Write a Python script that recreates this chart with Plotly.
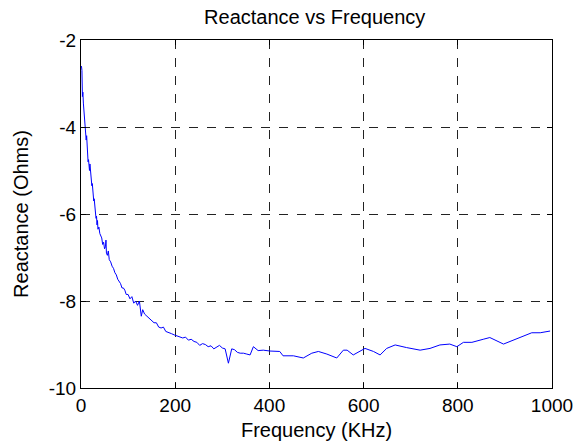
import plotly.graph_objects as go

# Frequency sweep (KHz) and measured reactance (Ohms)
freq_khz = [1, 2, 3, 4, 5, 6, 7, 8, 9, 10, 11, 12, 13, 14, 15, 16, 17, 18, 19, 20,
            21, 22, 23, 24, 25, 26, 27, 28, 29, 30, 31, 32, 33, 34, 35, 36, 38, 40,
            42, 44, 46, 48, 50, 52, 53, 54, 56, 58, 60, 63, 66, 69, 72, 75, 78, 81,
            84, 87, 90, 93, 96, 100, 104, 108, 112, 116, 120, 124, 128, 131, 135,
            140, 145, 150, 155, 160, 165, 170, 175, 180, 186, 192, 198, 204, 210,
            216, 222, 228, 234, 240, 246, 252, 258, 264, 270, 276, 282, 288, 294,
            300, 306, 313, 320, 326, 332, 338, 345, 352, 359, 366, 376, 387, 401,
            422, 429, 451, 472, 490, 504, 522, 543, 557, 565, 578, 603, 621, 635,
            649, 667, 691, 720, 741, 762, 783, 798, 812, 830, 854, 868, 897, 918,
            939, 957, 975, 996]
reactance_ohm = [-2.6, -2.7, -3.3, -3.2, -3.45, -3.6, -3.75, -3.95, -3.9, -4.1,
                 -4.3, -4.2, -4.5, -4.6, -4.8, -4.75, -4.9, -5.0, -4.85, -5.05,
                 -5.2, -5.25, -5.35, -5.3, -5.5, -5.55, -5.7, -5.65, -5.85, -5.9,
                 -6.0, -6.1, -6.05, -6.25, -6.15, -6.35, -6.3, -6.45, -6.5, -6.55,
                 -6.7, -6.65, -6.8, -6.75, -6.6, -6.9, -6.95, -6.85, -7.05, -7.1,
                 -7.2, -7.25, -7.35, -7.4, -7.5, -7.55, -7.6, -7.7, -7.7, -7.75,
                 -7.85, -7.85, -7.95, -7.9, -8.05, -8.0, -8.1, -8.0, -8.35, -8.2,
                 -8.3, -8.35, -8.4, -8.45, -8.5, -8.5, -8.6, -8.62, -8.6, -8.7,
                 -8.72, -8.75, -8.78, -8.8, -8.82, -8.85, -8.83, -8.9, -8.88, -8.93,
                 -8.95, -9.02, -8.98, -9.0, -9.05, -9.03, -9.1, -9.05, -9.02, -9.08,
                 -9.1, -9.43, -9.1, -9.12, -9.18, -9.2, -9.2, -9.22, -9.24, -9.05,
                 -9.14, -9.13, -9.15, -9.16, -9.26, -9.26, -9.31, -9.2, -9.16, -9.22,
                 -9.31, -9.13, -9.13, -9.24, -9.09, -9.16, -9.24, -9.09, -9.01, -9.07,
                 -9.13, -9.09, -9.01, -8.99, -9.05, -8.95, -8.95, -8.88, -8.84, -8.99,
                 -8.9, -8.8, -8.73, -8.73, -8.69]

x_ticks = [0, 200, 400, 600, 800, 1000]
y_ticks = [-10, -8, -6, -4, -2]

font_family = "Liberation Sans, Arial, sans-serif"
tick_size = 19
label_size = 20

fig = go.Figure()
fig.add_trace(go.Scatter(
    x=freq_khz, y=reactance_ohm, mode="lines",
    line=dict(color="#0000ff", width=1),
    showlegend=False,
))

axis_common = dict(
    showline=True, linecolor="black", linewidth=1, mirror="ticks",
    ticks="inside", ticklen=5, tickcolor="black", tickwidth=1,
    showgrid=True, gridcolor="#222222", gridwidth=1, griddash="dash",
    zeroline=False, automargin=False,
    tickfont=dict(family=font_family, size=tick_size, color="black"),
)

fig.update_layout(
    width=585, height=448,
    margin=dict(l=81, r=33, t=40, b=60),
    paper_bgcolor="white", plot_bgcolor="white",
    font=dict(family=font_family, size=tick_size, color="black"),
    title=dict(text="Reactance vs Frequency", x=0.538, xanchor="center",
               y=0.963, yanchor="middle",
               font=dict(family=font_family, size=label_size, color="black")),
    xaxis=dict(
        axis_common, range=[0, 1000], tickvals=x_ticks,
        ticktext=[str(v) for v in x_ticks],
        title=dict(text="Frequency (KHz)", standoff=8,
                   font=dict(family=font_family, size=label_size)),
    ),
    yaxis=dict(
        axis_common, range=[-10, -2], tickvals=y_ticks,
        ticktext=[str(v) for v in y_ticks],
        title=dict(text="Reactance (Ohms)", standoff=14,
                   font=dict(family=font_family, size=label_size)),
    ),
)

fig.write_html("out.html")
